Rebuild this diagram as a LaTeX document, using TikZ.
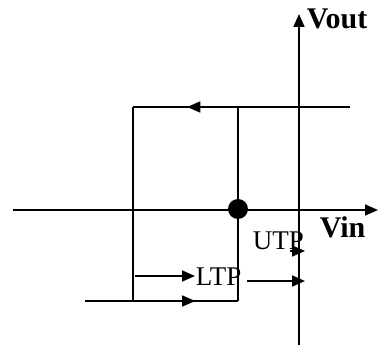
\documentclass[tikz,border=0pt]{standalone}
\usepackage{fontspec}
\setmainfont{Liberation Serif}
\usetikzlibrary{
  arrows.meta,          % Triangle arrow tips
  decorations.markings  % arrow heads halfway along a line
}

\begin{document}
\begin{tikzpicture}[x=1pt, y=-1pt, line width=1.6pt,
  tip/.style={-{Triangle[length=13pt, width=11pt]}},
  midarrow/.style={postaction={decorate}, decoration={markings,
    mark=at position #1 with {\arrow{Triangle[length=13pt, width=11pt]}}}},
  axislabel/.style={font=\fontsize{30}{33}\selectfont\bfseries, inner sep=0pt, anchor=base west},
  tplabel/.style={font=\fontsize{27}{30}\selectfont, inner sep=0pt, anchor=base west}]

  \useasboundingbox (0,0) rectangle (378,347);

  % =============== axes ===============
  \coordinate (xL) at (13,210);
  \coordinate (xR) at (378,210);
  \coordinate (yB) at (299,345);
  \coordinate (yT) at (299,14);
  \draw[tip] (xL) -- (xR);
  \draw[tip] (yB) -- (yT);
  \node[axislabel] (vout) at (306,29) {Vout};
  \node[axislabel] (vin) at (319,238) {Vin};

  % =============== hysteresis loop ===============
  \coordinate (B) at (350,107); % upper branch, right end
  \coordinate (A) at (133,107); % upper branch, left corner
  \coordinate (E) at (133,301); % left edge, bottom
  \coordinate (F) at (85,301);  % lower branch, left end
  \coordinate (C) at (238,107); % switching edge, top
  \coordinate (D) at (238,301); % switching edge, bottom
  \draw[midarrow=0.75] (B) -- (A);
  \draw (A) -- (E);
  \draw[midarrow=0.72] (F) -- (D);
  \draw (C) -- (D);

  % operating point
  \node[circle, fill, inner sep=0pt, minimum size=20pt] (dot) at (238,209) {};

  % =============== threshold labels ===============
  \node[tplabel] (utp) at (252,250) {UTP};
  \coordinate (utpA) at (290,251);
  \coordinate (utpB) at (305,251);
  \draw[tip] (utpA) -- (utpB);

  \node[tplabel] (ltp) at (195,286) {LTP};
  \coordinate (ltpA) at (135,276);
  \coordinate (ltpB) at (305,281);
  \draw[tip] (ltpA) -- (ltpA -| ltp.west);
  \draw[tip] ([xshift=5pt]ltp.east |- ltpB) -- (ltpB);

\end{tikzpicture}
\end{document}
